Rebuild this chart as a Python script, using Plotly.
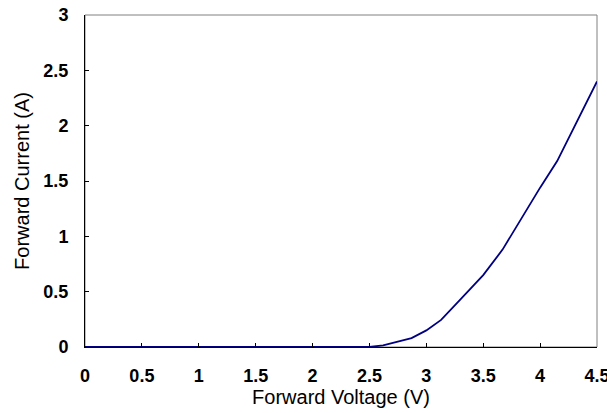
import plotly.graph_objects as go

voltage = [0, 0.5, 1, 1.5, 2, 2.5, 2.62, 2.87, 3.0, 3.13, 3.3, 3.5, 3.67, 4.0, 4.15, 4.5]
current = [0, 0, 0, 0, 0, 0, 0.015, 0.08, 0.15, 0.245, 0.43, 0.65, 0.88, 1.44, 1.68, 2.40]

x_ticks = [0, 0.5, 1, 1.5, 2, 2.5, 3, 3.5, 4, 4.5]
x_labels = ["0", "0.5", "1", "1.5", "2", "2.5", "3", "3.5", "4", "4.5"]
y_ticks = [0, 0.5, 1, 1.5, 2, 2.5, 3]
y_labels = ["0", "0.5", "1", "1.5", "2", "2.5", "3"]

fig = go.Figure()
fig.add_trace(go.Scatter(x=voltage, y=current, mode="lines",
                         line=dict(color="#000080", width=1.8), showlegend=False))

tickfont = dict(family="Arial, Liberation Sans", size=18, color="black", weight="bold")
titlefont = dict(family="Arial, Liberation Sans", size=20, color="black")

fig.update_layout(
    width=607, height=413,
    margin=dict(l=85, r=10, t=15, b=66),
    paper_bgcolor="white", plot_bgcolor="white",
    shapes=[dict(type="rect", xref="paper", yref="paper", x0=0, x1=1, y0=0, y1=1,
                 line=dict(color="#808080", width=1), layer="below")],
)
fig.update_xaxes(range=[0, 4.5], tickvals=x_ticks, ticktext=x_labels,
                 ticks="inside", ticklen=4, tickcolor="black",
                 showline=True, linecolor="black", linewidth=1,
                 showgrid=False, zeroline=False, tickfont=tickfont,
                 ticklabelstandoff=12, ticklabeloverflow="allow", automargin=False,
                 title=dict(text="Forward Voltage (V)", font=titlefont, standoff=4))
fig.update_yaxes(range=[0, 3], tickvals=y_ticks, ticktext=y_labels,
                 ticks="inside", ticklen=4, tickcolor="black",
                 showline=True, linecolor="black", linewidth=1,
                 showgrid=False, zeroline=False, tickfont=tickfont,
                 ticklabelstandoff=12, automargin=False,
                 title=dict(text="Forward Current (A)", font=titlefont, standoff=8))

fig.write_html("out.html")
